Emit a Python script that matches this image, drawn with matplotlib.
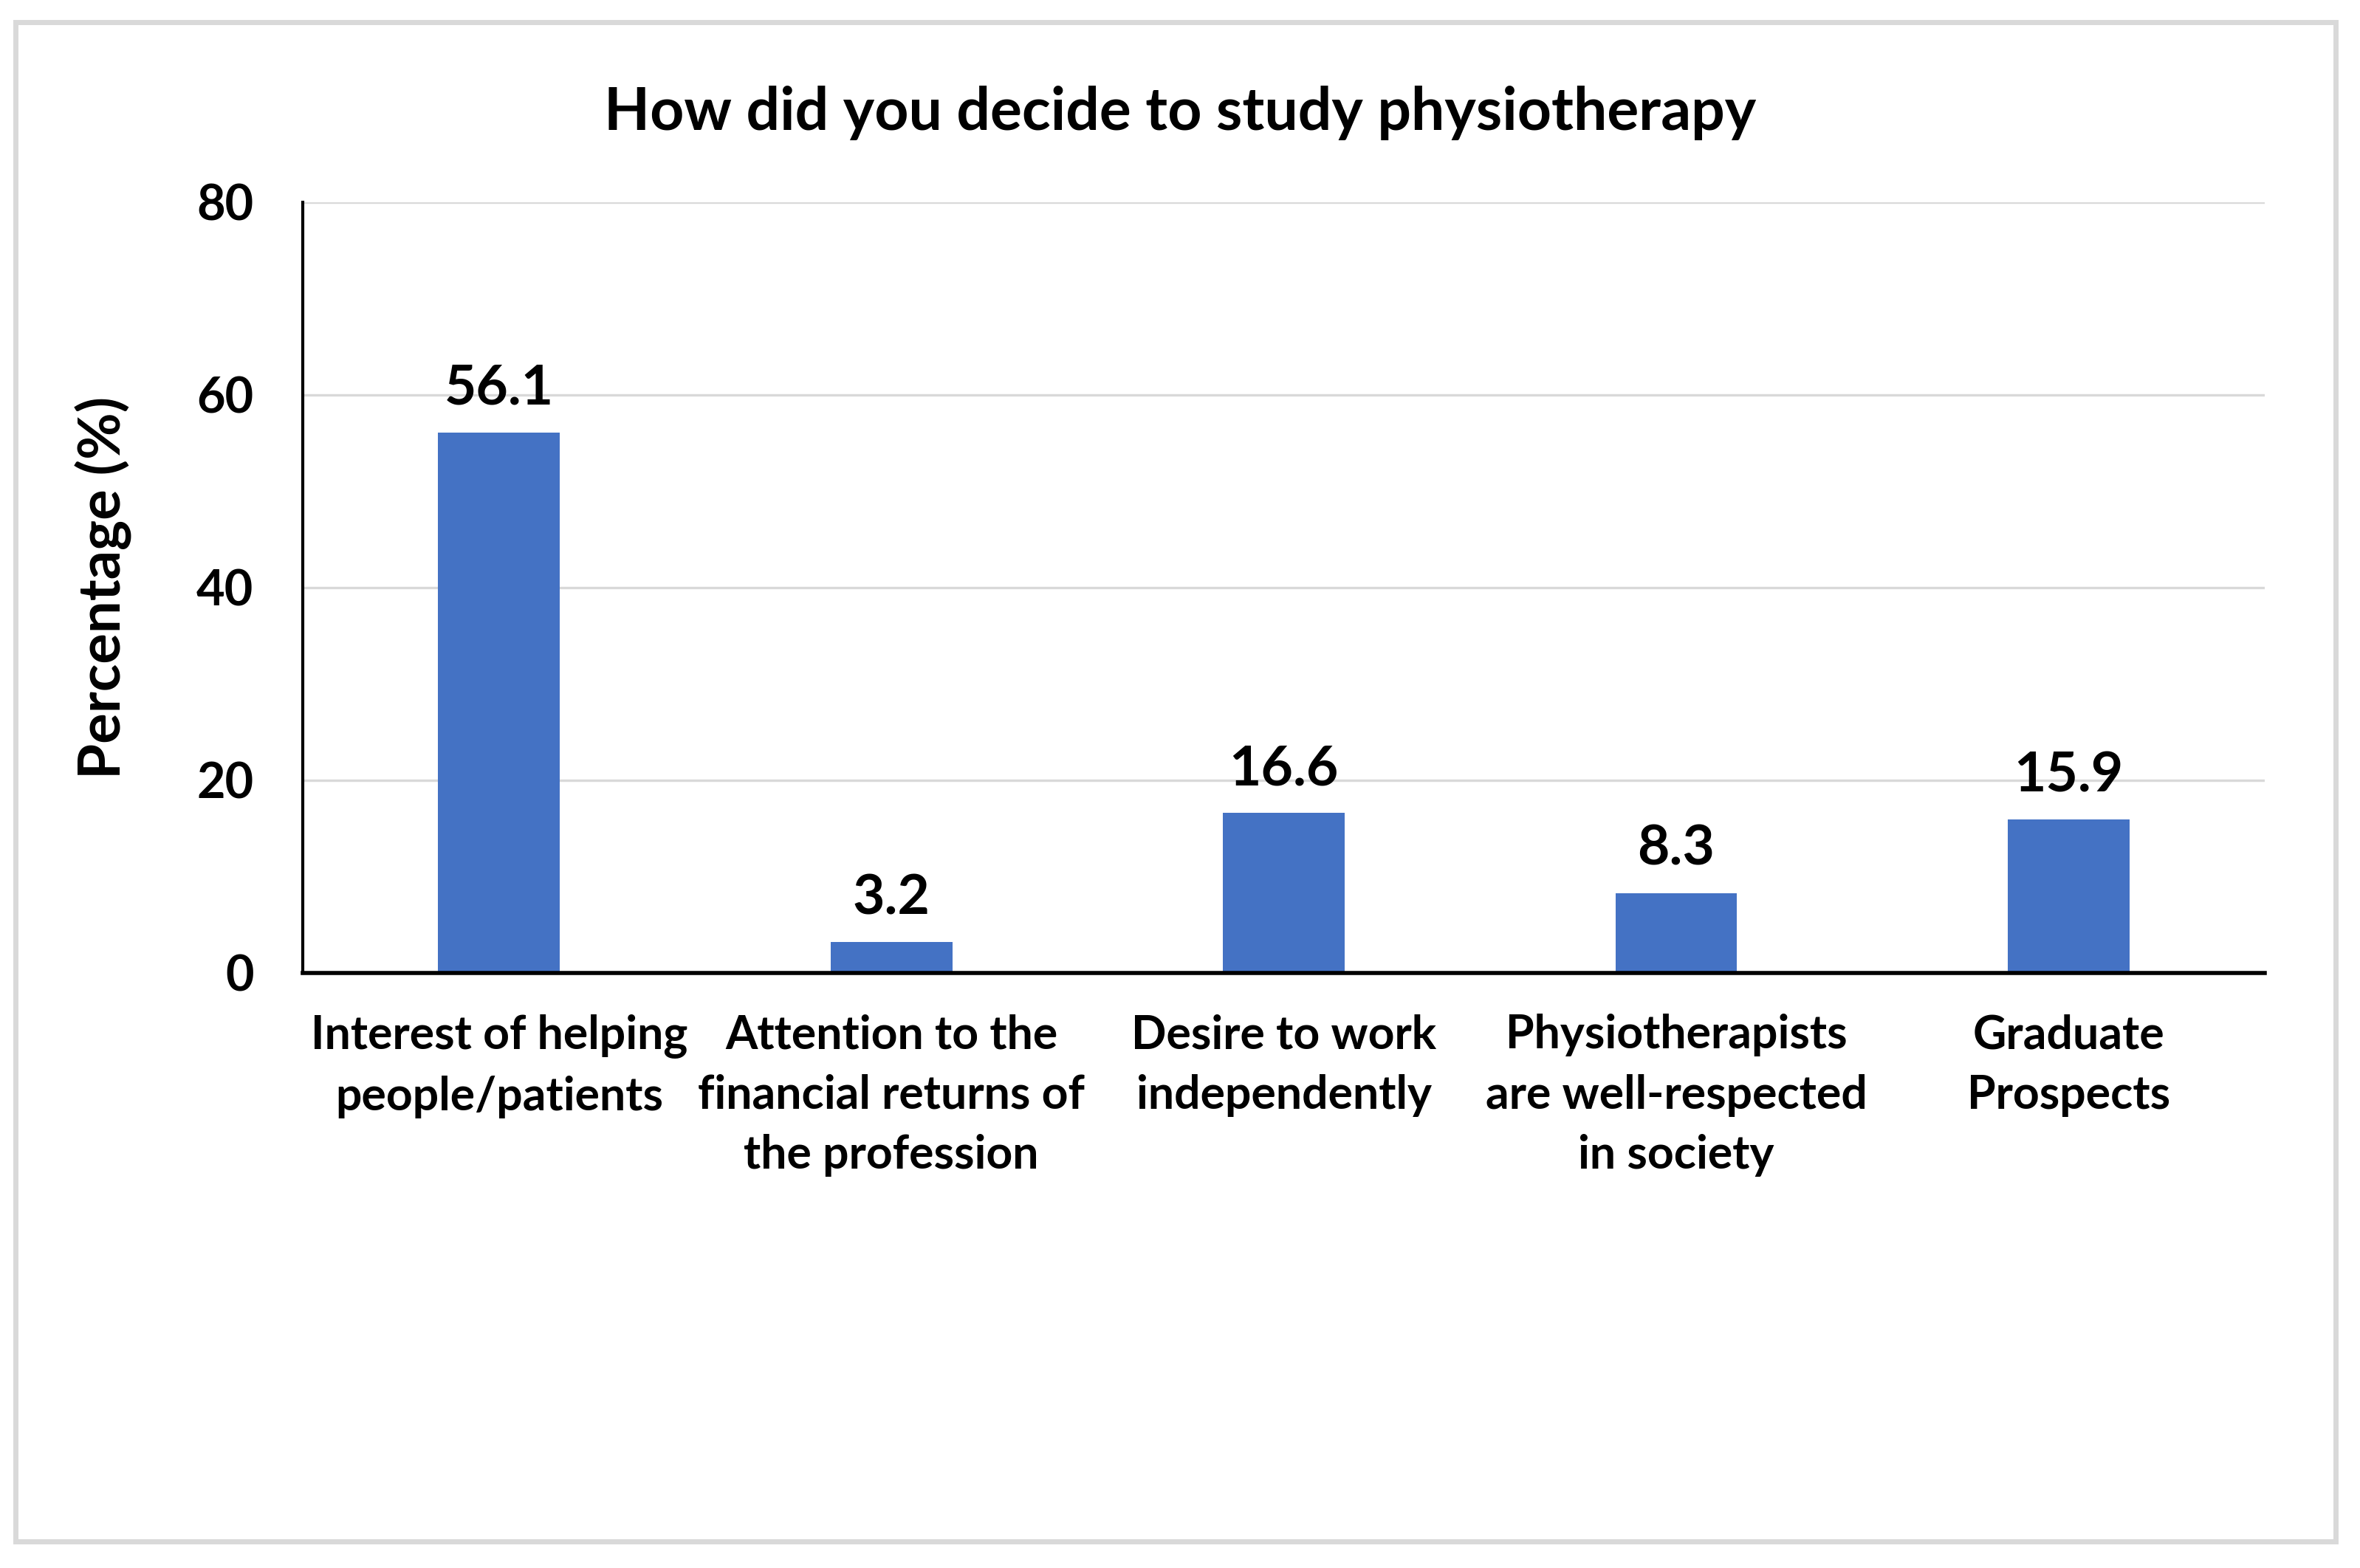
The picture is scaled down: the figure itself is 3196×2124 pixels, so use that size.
"""Bar chart: how students decided to study physiotherapy."""

import matplotlib
matplotlib.use("Agg")
import matplotlib.pyplot as plt
from matplotlib.patches import Rectangle

categories = [
    "Interest of helping\npeople/patients",
    "Attention to the\nfinancial returns of\nthe profession",
    "Desire to work\nindependently",
    "Physiotherapists\nare well-respected\nin society",
    "Graduate\nProspects",
]
percentages = [56.1, 3.2, 16.6, 8.3, 15.9]
y_ticks = [0, 20, 40, 60, 80]

plt.rcParams["font.family"] = ["Lato", "DejaVu Sans"]
plt.rcParams["font.weight"] = "bold"

bar_colour = "#4472C4"
grid_colour = "#D9D9D9"

fig = plt.figure(figsize=(15.98, 10.62), dpi=200)
ax = fig.add_axes([0.1283, 0.3795, 0.8314, 0.4915])

x = range(len(categories))
bars = ax.bar(x, percentages, width=0.31, color=bar_colour, zorder=3)

for rect, val in zip(bars, percentages):
    ax.annotate(f"{val:.1f}", (rect.get_x() + rect.get_width() / 2, rect.get_height()),
                xytext=(0, 9), textcoords="offset points",
                ha="center", va="bottom", fontsize=27, fontweight="bold")

ax.set_xlim(-0.5, len(categories) - 0.5)
ax.set_ylim(0, 80)
ax.set_yticks(y_ticks)
ax.set_yticklabels([str(t) for t in y_ticks], fontsize=24, fontweight="bold")
ax.set_xticks(list(x))
ax.set_xticklabels(categories, fontsize=22.5, fontweight="bold", linespacing=1.5)
ax.tick_params(axis="x", length=0, pad=20)
ax.tick_params(axis="y", length=0, pad=24)

ax.grid(axis="y", color=grid_colour, linewidth=1.2, zorder=0)
for side in ("top", "right"):
    ax.spines[side].set_visible(False)
ax.spines["left"].set_linewidth(1.5)
ax.spines["bottom"].set_linewidth(2.0)
ax.spines["left"].set_zorder(4)
ax.spines["bottom"].set_zorder(4)

ax.set_ylabel("Percentage (%)", fontsize=28, fontweight="bold")
ax.yaxis.set_label_coords(-0.087, 0.5)

fig.text(0.5, 0.928, "How did you decide to study physiotherapy",
         ha="center", va="center", fontsize=29, fontweight="bold")

# light grey frame round the whole chart
fig.add_artist(Rectangle((21 / 3196, 1 - 2088 / 2124), 3142 / 3196, 2058 / 2124,
                         transform=fig.transFigure, fill=False,
                         edgecolor=grid_colour, linewidth=2.5))

fig.savefig("out.png", dpi=200)
plt.close(fig)
